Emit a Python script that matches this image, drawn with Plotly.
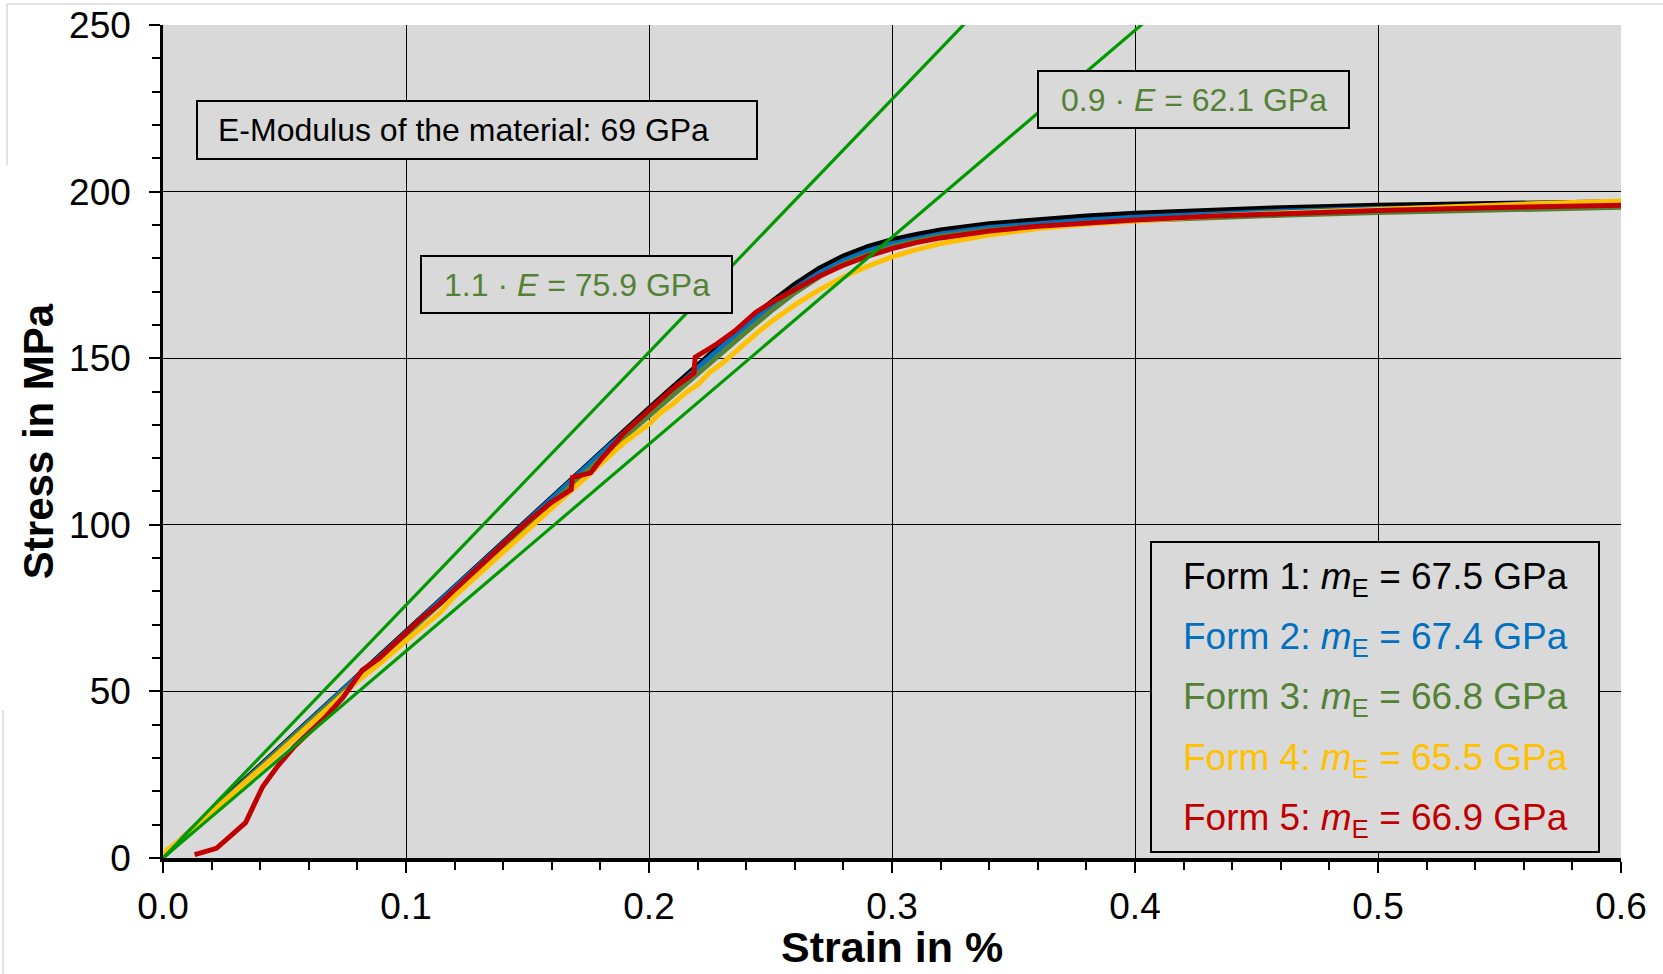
import plotly.graph_objects as go

# ---------------- data ----------------
form_names = ["Form 1", "Form 2", "Form 3", "Form 4", "Form 5"]
form_mE = [67.5, 67.4, 66.8, 65.5, 66.9]
form_colors = ["#000000", "#0070C0", "#548235", "#FFC000", "#C00000"]

strain_f1 = [0, 0.005, 0.01, 0.02, 0.03, 0.04, 0.05, 0.06, 0.07, 0.08, 0.09, 0.10, 0.11, 0.12,
             0.13, 0.14, 0.15, 0.16, 0.17, 0.18, 0.19, 0.20, 0.21, 0.22, 0.23, 0.24, 0.25, 0.26,
             0.27, 0.28, 0.29, 0.30, 0.31, 0.32, 0.34, 0.36, 0.38, 0.40, 0.43, 0.46, 0.50, 0.55, 0.60]
stress_f1 = [0.4, 3.6, 7.2, 14.3, 21.0, 27.9, 34.5, 41.4, 48.0, 54.9, 61.4, 68.3, 74.8, 81.6,
             88.1, 95.0, 101.7, 108.6, 115.2, 121.7, 128.3, 134.9, 141.4, 147.9, 154.3, 160.6, 166.6, 172.1,
             176.9, 180.6, 183.4, 185.5, 187.1, 188.4, 190.3, 191.6, 192.6, 193.4, 194.4, 195.1, 195.8, 196.4, 196.9]

strain_f2 = strain_f1
stress_f2 = [0.4, 3.5, 7.0, 14.0, 20.8, 27.6, 34.3, 41.0, 47.8, 54.5, 61.0, 67.9, 74.5, 81.2,
             87.8, 94.6, 101.3, 108.1, 114.7, 121.3, 127.8, 134.3, 140.8, 147.2, 153.5, 159.7, 165.6, 170.9,
             175.6, 179.3, 182.2, 184.4, 186.0, 187.3, 189.2, 190.5, 191.5, 192.3, 193.3, 194.1, 194.9, 195.6, 196.1]

strain_f3 = strain_f1
stress_f3 = [0.5, 3.8, 7.1, 13.9, 20.6, 27.2, 34.0, 40.6, 47.3, 54.1, 60.6, 67.2, 73.7, 80.4,
             87.0, 93.7, 100.3, 106.9, 113.3, 119.9, 126.4, 132.7, 139.1, 145.3, 151.6, 157.9, 164.0, 169.6,
             174.4, 178.3, 181.1, 183.5, 185.2, 186.6, 188.5, 189.7, 190.6, 191.3, 192.2, 192.9, 193.7, 194.6, 195.3]

strain_f4 = [0, 0.002, 0.01, 0.02, 0.032, 0.045, 0.056, 0.068, 0.080, 0.09, 0.10, 0.114, 0.12, 0.13,
             0.14, 0.15, 0.16, 0.17, 0.18, 0.19, 0.20, 0.205, 0.21, 0.215, 0.22, 0.225, 0.23, 0.235,
             0.24, 0.245, 0.25, 0.26, 0.27, 0.28, 0.29, 0.30, 0.31, 0.32, 0.34, 0.36, 0.38, 0.40,
             0.43, 0.46, 0.50, 0.55, 0.60]
stress_f4 = [0.6, 2.6, 7.0, 13.8, 21.6, 29.8, 37.2, 44.8, 53.0, 58.8, 65.2, 73.6, 78.6, 85.2,
             91.8, 98.6, 105.2, 111.8, 118.3, 124.8, 130.2, 133.8, 136.3, 139.6, 142.0, 145.8, 148.4, 151.7,
             154.6, 157.9, 160.8, 166.0, 170.5, 174.4, 177.6, 180.4, 182.6, 184.4, 187.0, 188.9, 190.2, 191.3,
             192.6, 193.6, 194.8, 196.0, 197.2]

strain_f5 = [0.013, 0.022, 0.034, 0.041, 0.047, 0.054, 0.060, 0.067, 0.074, 0.078, 0.082, 0.089, 0.095,
             0.100, 0.105, 0.114, 0.120, 0.130, 0.140, 0.150, 0.160, 0.168, 0.1685, 0.176, 0.180, 0.190,
             0.200, 0.210, 0.2185, 0.219, 0.228, 0.235, 0.244, 0.252, 0.262, 0.270, 0.280, 0.290, 0.300,
             0.310, 0.320, 0.340, 0.360, 0.380, 0.400, 0.430, 0.460, 0.500, 0.550, 0.600]
stress_f5 = [1.0, 2.9, 10.6, 21.4, 27.4, 33.4, 37.6, 42.4, 48.1, 52.4, 56.4, 59.9, 64.1,
             67.9, 71.0, 76.4, 80.6, 87.5, 94.2, 100.9, 106.8, 110.6, 114.2, 115.6, 119.4, 127.8,
             134.5, 141.0, 145.5, 150.3, 154.3, 158.0, 163.8, 167.4, 171.4, 174.6, 177.9, 180.6, 182.9,
             184.7, 186.1, 188.2, 189.6, 190.6, 191.5, 192.6, 193.4, 194.3, 195.2, 195.9]

E_material = 69.0          # GPa
E_factors = [1.1, 0.9]
x_ticks = [0.0, 0.1, 0.2, 0.3, 0.4, 0.5, 0.6]
y_ticks = [0, 50, 100, 150, 200, 250]
x_title = "Strain in %"
y_title = "Stress in MPa"

# ---------------- layout geometry ----------------
W, H = 1663, 974
L, R, T, B = 163, 42, 25, 116
PW = W - L - R
PH = H - T - B


def px(x):
    return (x - L) / PW


def py(y):
    return (H - B - y) / PH


FONT = "Liberation Sans, Arial, sans-serif"
BG = "#D9D9D9"
GREEN_TXT = "#548235"
GREEN_LINE = "#009A00"

fig = go.Figure()

strains = [strain_f1, strain_f2, strain_f3, strain_f4, strain_f5]
stresses = [stress_f1, stress_f2, stress_f3, stress_f4, stress_f5]
widths = [5.5, 5, 5, 5, 5]
for name, xs, ys, col, w in zip(form_names, strains, stresses, form_colors, widths):
    fig.add_trace(go.Scatter(x=xs, y=ys, mode="lines", name=name,
                             line=dict(color=col, width=w), showlegend=False))

# reference lines 1.1*E and 0.9*E (stress in MPa = E[GPa]*1000 * strain[%]/100)
for f in E_factors:
    E = f * E_material
    x_end = x_ticks[-1]
    fig.add_trace(go.Scatter(x=[0, x_end], y=[0, E * 10 * x_end], mode="lines",
                             name=f"{f}·E", line=dict(color=GREEN_LINE, width=3.2),
                             showlegend=False))

axis_common = dict(
    showline=True, linecolor="black", showgrid=True, gridcolor="black", gridwidth=1.2,
    zeroline=False, ticks="outside", tickcolor="black", tickwidth=2, ticklen=11,
    tickfont=dict(family=FONT, size=37, color="black"),
)

fig.update_xaxes(
    range=[0, 0.6], tickvals=x_ticks, ticktext=[f"{v:.1f}" for v in x_ticks],
    linewidth=4, ticklabelstandoff=2,
    minor=dict(dtick=0.02, tick0=0, ticks="outside", ticklen=8, tickwidth=2, tickcolor="black", showgrid=False),
    **axis_common,
)
fig.update_yaxes(
    range=[0, 250], tickvals=y_ticks, ticktext=[str(v) for v in y_ticks],
    linewidth=2.5, ticklabelstandoff=11,
    minor=dict(dtick=10, tick0=0, ticks="outside", ticklen=8, tickwidth=2, tickcolor="black", showgrid=False),
    title=dict(text=y_title, font=dict(family=FONT, size=42, color="black", weight="bold"), standoff=3),
    **axis_common,
)

shapes = []
annotations = []

# x-axis title (bottom of its text box at the figure's bottom edge)
annotations.append(dict(xref="paper", yref="paper", x=0.5, y=py(973), xanchor="center", yanchor="bottom",
                        text=x_title, showarrow=False,
                        font=dict(family=FONT, size=43, color="black", weight="bold")))


def box(x0, y0, x1, y1):
    shapes.append(dict(type="rect", xref="paper", yref="paper", layer="above",
                       x0=px(x0), x1=px(x1), y0=py(y1), y1=py(y0),
                       fillcolor=BG, line=dict(color="black", width=2)))


# E-modulus box
box(197, 101, 757, 159)
annotations.append(dict(xref="paper", yref="paper", x=px(216), y=py(130), xanchor="left", yanchor="middle",
                        text=f"E-Modulus of the material: {E_material:.0f} GPa", showarrow=False,
                        font=dict(family=FONT, size=32, color="black")))

# 1.1 E box
box(421, 256, 732, 313)
annotations.append(dict(xref="paper", yref="paper", x=px(576.5), y=py(284.5), xanchor="center", yanchor="middle",
                        text=f"{E_factors[0]} · <i>E</i> = {E_factors[0]*E_material:.1f} GPa", showarrow=False,
                        font=dict(family=FONT, size=32, color=GREEN_TXT)))

# 0.9 E box
box(1038, 71, 1349, 128)
annotations.append(dict(xref="paper", yref="paper", x=px(1193.5), y=py(99.5), xanchor="center", yanchor="middle",
                        text=f"{E_factors[1]} · <i>E</i> = {E_factors[1]*E_material:.1f} GPa", showarrow=False,
                        font=dict(family=FONT, size=32, color=GREEN_TXT)))

# legend box
box(1151, 542, 1599, 852)
row_y = [579, 639, 699, 760, 820]
for name, m, col, yy in zip(form_names, form_mE, form_colors, row_y):
    annotations.append(dict(xref="paper", yref="paper", x=px(1181), y=py(yy), xanchor="left", yanchor="middle",
                            text=f"{name}: <i>m</i><sub>E</sub> = {m:.1f} GPa", showarrow=False,
                            font=dict(family=FONT, size=37, color=col)))

# faint outer frame remnants
shapes.append(dict(type="line", xref="paper", yref="paper", x0=px(7), x1=px(W), y0=py(4), y1=py(4),
                   line=dict(color="#D9D9D9", width=1.5)))
shapes.append(dict(type="line", xref="paper", yref="paper", x0=px(7), x1=px(7), y0=py(4), y1=py(165),
                   line=dict(color="#D9D9D9", width=1.5)))
shapes.append(dict(type="line", xref="paper", yref="paper", x0=px(3), x1=px(3), y0=py(710), y1=py(974),
                   line=dict(color="#D9D9D9", width=1.5)))

fig.update_layout(
    width=W, height=H,
    margin=dict(l=L, r=R, t=T, b=B, autoexpand=False),
    paper_bgcolor="white", plot_bgcolor=BG,
    font=dict(family=FONT, color="black"),
    shapes=shapes, annotations=annotations, showlegend=False,
)

fig.write_html("out.html")
